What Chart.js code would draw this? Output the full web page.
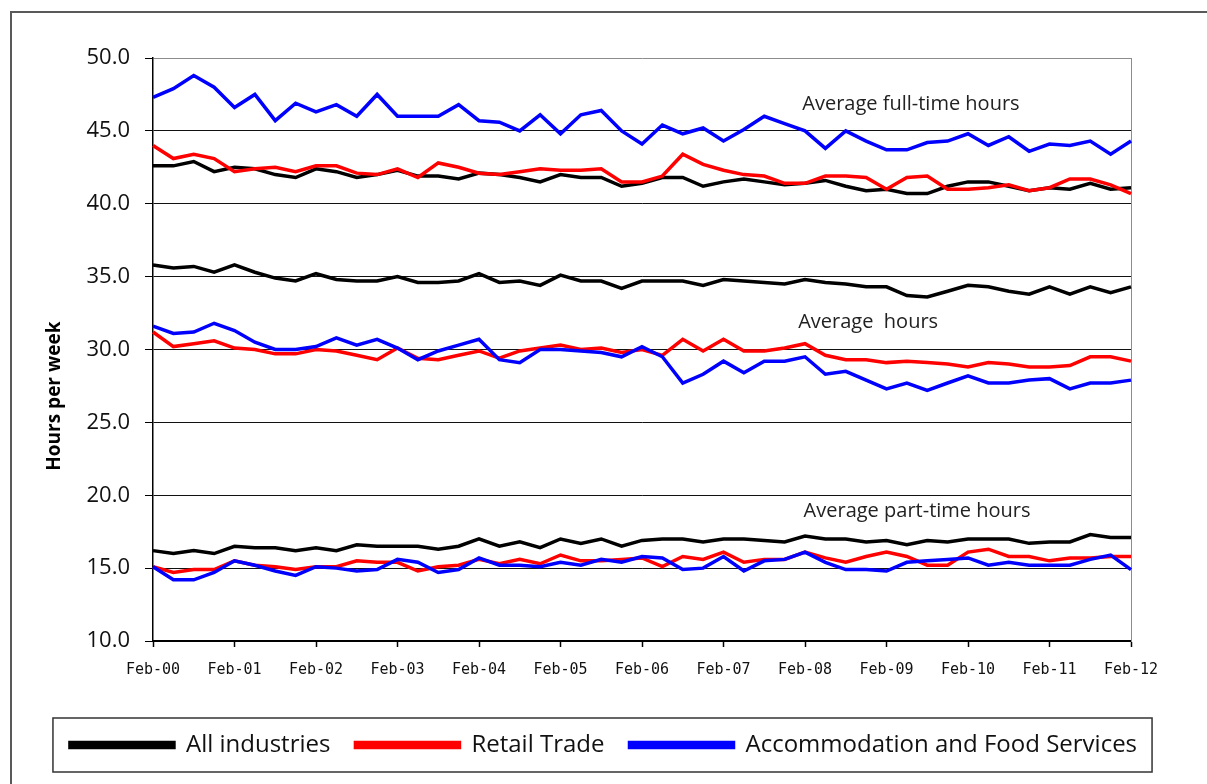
<!DOCTYPE html>
<html>
<head>
<meta charset="utf-8">
<title>Hours per week</title>
<script src="https://cdn.jsdelivr.net/npm/chart.js@4.4.1/dist/chart.umd.min.js"></script>
<style>
  html, body { margin: 0; padding: 0; background: #fff; }
  #grafico { display: block; }
</style>
</head>
<body>
<canvas id="grafico" width="1207" height="784"></canvas>
<script>
// ─── Dados (trimestral, Feb-00 .. Feb-12) ─────────────────────────────────────
const quarterMonths = ['Feb', 'May', 'Aug', 'Nov'];
const yearCodes     = ['00', '01', '02', '03', '04', '05', '06', '07', '08', '09', '10', '11', '12'];

const seriesNames  = ['All industries', 'Retail Trade', 'Accommodation and Food Services'];
const seriesColors = ['#000000', '#ff0000', '#0000ff'];

// Average full-time hours
const fullTimeAll    = [42.6, 42.6, 42.9, 42.2, 42.5, 42.4, 42.0, 41.8, 42.4, 42.2, 41.8, 42.0, 42.3, 41.9, 41.9, 41.7, 42.1, 42.0, 41.8, 41.5, 42.0, 41.8, 41.8, 41.2, 41.4,
                        41.8, 41.8, 41.2, 41.5, 41.7, 41.5, 41.3, 41.4, 41.6, 41.2, 40.9, 41.0, 40.7, 40.7, 41.2, 41.5, 41.5, 41.2, 40.9, 41.1, 41.0, 41.4, 41.0, 41.1];
const fullTimeRetail = [44.0, 43.1, 43.4, 43.1, 42.2, 42.4, 42.5, 42.2, 42.6, 42.6, 42.1, 42.0, 42.4, 41.8, 42.8, 42.5, 42.1, 42.0, 42.2, 42.4, 42.3, 42.3, 42.4, 41.5, 41.5,
                        41.9, 43.4, 42.7, 42.3, 42.0, 41.9, 41.4, 41.4, 41.9, 41.9, 41.8, 41.0, 41.8, 41.9, 41.0, 41.0, 41.1, 41.3, 40.9, 41.1, 41.7, 41.7, 41.3, 40.7];
const fullTimeAccom  = [47.3, 47.9, 48.8, 48.0, 46.6, 47.5, 45.7, 46.9, 46.3, 46.8, 46.0, 47.5, 46.0, 46.0, 46.0, 46.8, 45.7, 45.6, 45.0, 46.1, 44.8, 46.1, 46.4, 45.0, 44.1,
                        45.4, 44.8, 45.2, 44.3, 45.1, 46.0, 45.5, 45.0, 43.8, 45.0, 44.3, 43.7, 43.7, 44.2, 44.3, 44.8, 44.0, 44.6, 43.6, 44.1, 44.0, 44.3, 43.4, 44.3];

// Average hours
const avgAll    = [35.8, 35.6, 35.7, 35.3, 35.8, 35.3, 34.9, 34.7, 35.2, 34.8, 34.7, 34.7, 35.0, 34.6, 34.6, 34.7, 35.2, 34.6, 34.7, 34.4, 35.1, 34.7, 34.7, 34.2, 34.7,
                   34.7, 34.7, 34.4, 34.8, 34.7, 34.6, 34.5, 34.8, 34.6, 34.5, 34.3, 34.3, 33.7, 33.6, 34.0, 34.4, 34.3, 34.0, 33.8, 34.3, 33.8, 34.3, 33.9, 34.3];
const avgRetail = [31.2, 30.2, 30.4, 30.6, 30.1, 30.0, 29.7, 29.7, 30.0, 29.9, 29.6, 29.3, 30.1, 29.4, 29.3, 29.6, 29.9, 29.4, 29.9, 30.1, 30.3, 30.0, 30.1, 29.8, 30.0,
                   29.6, 30.7, 29.9, 30.7, 29.9, 29.9, 30.1, 30.4, 29.6, 29.3, 29.3, 29.1, 29.2, 29.1, 29.0, 28.8, 29.1, 29.0, 28.8, 28.8, 28.9, 29.5, 29.5, 29.2];
const avgAccom  = [31.6, 31.1, 31.2, 31.8, 31.3, 30.5, 30.0, 30.0, 30.2, 30.8, 30.3, 30.7, 30.1, 29.3, 29.9, 30.3, 30.7, 29.3, 29.1, 30.0, 30.0, 29.9, 29.8, 29.5, 30.2,
                   29.5, 27.7, 28.3, 29.2, 28.4, 29.2, 29.2, 29.5, 28.3, 28.5, 27.9, 27.3, 27.7, 27.2, 27.7, 28.2, 27.7, 27.7, 27.9, 28.0, 27.3, 27.7, 27.7, 27.9];

// Average part-time hours
const partTimeAll    = [16.2, 16.0, 16.2, 16.0, 16.5, 16.4, 16.4, 16.2, 16.4, 16.2, 16.6, 16.5, 16.5, 16.5, 16.3, 16.5, 17.0, 16.5, 16.8, 16.4, 17.0, 16.7, 17.0, 16.5, 16.9,
                        17.0, 17.0, 16.8, 17.0, 17.0, 16.9, 16.8, 17.2, 17.0, 17.0, 16.8, 16.9, 16.6, 16.9, 16.8, 17.0, 17.0, 17.0, 16.7, 16.8, 16.8, 17.3, 17.1, 17.1];
const partTimeRetail = [15.1, 14.7, 14.9, 14.9, 15.5, 15.2, 15.1, 14.9, 15.1, 15.1, 15.5, 15.4, 15.4, 14.8, 15.1, 15.2, 15.6, 15.3, 15.6, 15.3, 15.9, 15.5, 15.5, 15.6, 15.7,
                        15.1, 15.8, 15.6, 16.1, 15.4, 15.6, 15.6, 16.1, 15.7, 15.4, 15.8, 16.1, 15.8, 15.2, 15.2, 16.1, 16.3, 15.8, 15.8, 15.5, 15.7, 15.7, 15.8, 15.8];
const partTimeAccom  = [15.1, 14.2, 14.2, 14.7, 15.5, 15.2, 14.8, 14.5, 15.1, 15.0, 14.8, 14.9, 15.6, 15.4, 14.7, 14.9, 15.7, 15.2, 15.2, 15.1, 15.4, 15.2, 15.6, 15.4, 15.8,
                        15.7, 14.9, 15.0, 15.8, 14.8, 15.5, 15.6, 16.1, 15.4, 14.9, 14.9, 14.8, 15.4, 15.5, 15.6, 15.7, 15.2, 15.4, 15.2, 15.2, 15.2, 15.6, 15.9, 14.9];

// Eixo Y
const yMin = 10, yMax = 50, yStep = 5;

// Textos dentro do gráfico
const yTitle = 'Hours per week';
const notes = [
  { text: 'Average full-time hours', x: 37.2, y: 46.8 },
  { text: 'Average  hours',          x: 35.1, y: 31.9 },
  { text: 'Average part-time hours', x: 37.5, y: 18.9 },
];

// ─── Rótulos trimestrais ──────────────────────────────────────────────────────
const periodLabels = [];
yearCodes.forEach(yy => quarterMonths.forEach(mm => {
  if (periodLabels.length < fullTimeAll.length) periodLabels.push(`${mm}-${yy}`);
}));

// ─── Datasets ─────────────────────────────────────────────────────────────────
const groups = [
  [fullTimeAll, fullTimeRetail, fullTimeAccom],
  [avgAll, avgRetail, avgAccom],
  [partTimeAll, partTimeRetail, partTimeAccom],
];
const datasets = [];
groups.forEach((grp, g) => {
  grp.forEach((values, s) => {
    datasets.push({
      label: seriesNames[s],
      data: values,
      borderColor: seriesColors[s],
      backgroundColor: seriesColors[s],
      borderWidth: 3.5,
      pointRadius: 0,
      tension: 0,
      order: 3 - s,          // azul por cima, depois vermelho, depois preto
      inLegend: g === 0,
    });
  });
});

// ─── Plugin: moldura, legenda com borda, título Y e notas ─────────────────────
const decor = {
  id: 'decor',
  beforeDraw(chart) {
    const { ctx, width, height } = chart;
    ctx.save();
    ctx.fillStyle = '#fff';
    ctx.fillRect(0, 0, width, height);
    ctx.strokeStyle = '#595959';
    ctx.lineWidth = 2;
    ctx.strokeRect(11, 12, width + 40, height + 40);
    ctx.restore();
  },
  afterDraw(chart) {
    const { ctx, scales: { x, y } } = chart;
    ctx.save();

    // caixa da legenda
    const hb = chart.legend.legendHitBoxes;
    if (hb && hb.length) {
      const left  = Math.min(...hb.map(h => h.left)) - 17;
      const right = Math.max(...hb.map(h => h.left + h.width)) + 15;
      const mid   = hb[0].top + hb[0].height / 2;
      ctx.strokeStyle = '#333';
      ctx.lineWidth = 1.5;
      ctx.strokeRect(left, mid - 27, right - left, 54);
    }

    // título do eixo Y
    ctx.fillStyle = '#000';
    ctx.font = 'bold 19px "Open Sans"';
    ctx.textAlign = 'center';
    ctx.textBaseline = 'middle';
    ctx.translate(55, y.getPixelForValue(26.8));
    ctx.rotate(-Math.PI / 2);
    ctx.fillText(yTitle, 0, 0);
    ctx.setTransform(1, 0, 0, 1, 0, 0);

    // notas
    ctx.fillStyle = '#222';
    ctx.font = '20px "Open Sans"';
    notes.forEach(n => {
      ctx.fillText(n.text, x.getPixelForValue(n.x), y.getPixelForValue(n.y));
    });
    ctx.restore();
  },
};

// ─── Gráfico ──────────────────────────────────────────────────────────────────
new Chart(document.getElementById('grafico'), {
  type: 'line',
  data: { labels: periodLabels, datasets },
  plugins: [decor],
  options: {
    responsive: false,
    animation: false,
    layout: { padding: { left: 0, right: 0, top: 58, bottom: 17 } },
    plugins: {
      tooltip: { enabled: false },
      legend: {
        position: 'bottom',
        labels: {
          filter: (item, data) => data.datasets[item.datasetIndex].inLegend,
          sort: (a, b) => a.datasetIndex - b.datasetIndex,
          boxWidth: 104,
          boxHeight: 5,
          padding: 25,
          color: '#111',
          font: { family: 'Open Sans', size: 24 },
        },
      },
    },
    scales: {
      x: {
        offset: false,
        afterFit: s => { s.height = 67; },
        border: { color: '#000', width: 2 },
        grid: {
          drawOnChartArea: false,
          drawTicks: true,
          tickLength: 6,
          tickColor: '#000',
          tickWidth: 1.5,
        },
        ticks: {
          autoSkip: false,
          maxRotation: 0,
          padding: 14,
          color: '#111',
          font: { family: 'DejaVu Sans Mono', size: 15 },
          callback(value, i) { return i % 4 === 0 ? this.getLabelForValue(value) : null; },
        },
      },
      y: {
        min: yMin,
        max: yMax,
        afterFit: s => { s.width = 153; },
        border: { color: '#000', width: 1.5 },
        grid: {
          color: ctx => (ctx.tick && ctx.tick.value === yMax ? '#8c8c8c' : '#111'),
          lineWidth: 1,
          tickLength: 8,
          tickColor: '#000',
        },
        ticks: {
          stepSize: yStep,
          padding: 15,
          color: '#111',
          font: { family: 'Open Sans', size: 22 },
          callback: v => v.toFixed(1),
        },
      },
      // eixo vazio à direita: só reserva a margem e desenha a borda cinza
      yRight: {
        position: 'right',
        min: yMin,
        max: yMax,
        afterFit: s => { s.width = 76; },
        border: { display: true, color: '#8c8c8c', width: 1 },
        grid: { drawOnChartArea: false, drawTicks: false },
        ticks: { display: false },
      },
    },
  },
});
</script>
</body>
</html>
